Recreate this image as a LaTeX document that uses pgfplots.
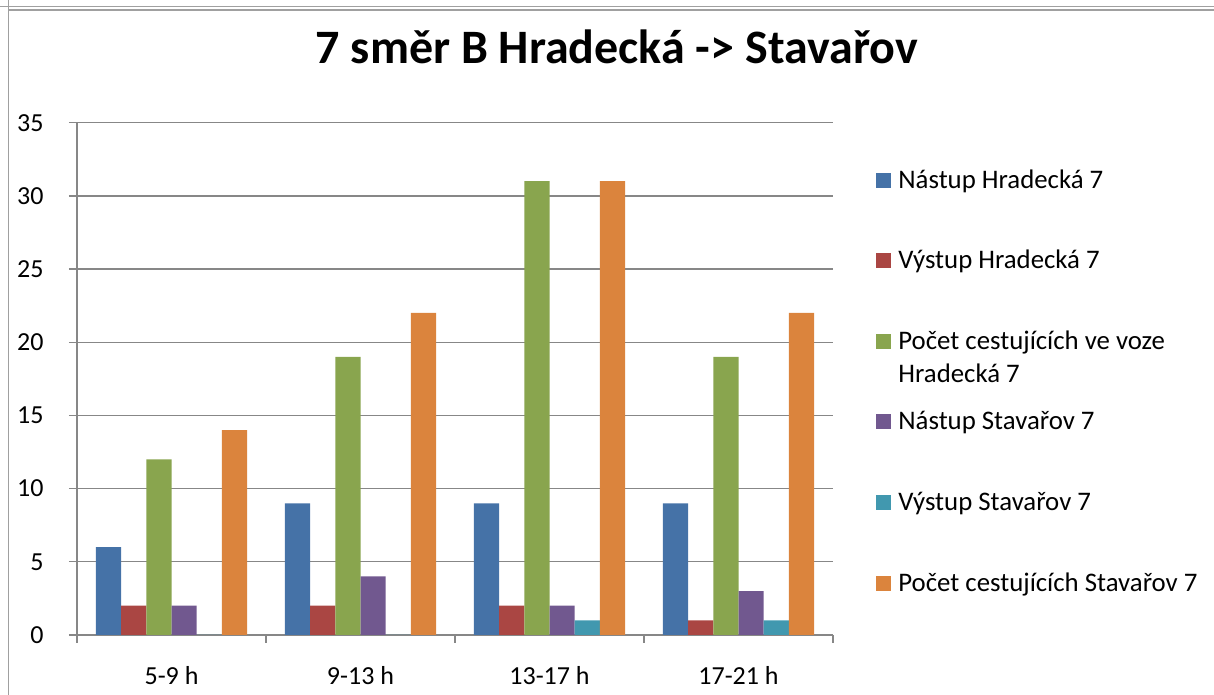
\documentclass[border=0pt]{standalone}
\usepackage{fontspec}
\setmainfont{Carlito}
\usepackage{pgfplots}
\pgfplotsset{compat=1.18}

\definecolor{cnh}{HTML}{4572A7}
\definecolor{cvh}{HTML}{AA4643}
\definecolor{cph}{HTML}{89A54E}
\definecolor{cns}{HTML}{71588F}
\definecolor{cvs}{HTML}{4198AF}
\definecolor{cps}{HTML}{DB843D}
\definecolor{axisgray}{HTML}{878787}
\definecolor{framegray}{HTML}{A0A0A0}

\begin{document}
\begin{tikzpicture}
% page is 1214x695 px at 0.5pt per px
\path[use as bounding box] (0,0) rectangle (607pt,347.5pt);
\draw[framegray, line width=0.75pt] (0pt,344.2pt) -- (607pt,344.2pt);
\draw[framegray, line width=0.75pt] (4.3pt,342.4pt) -- (607pt,342.4pt);
\draw[framegray, line width=0.75pt] (4.3pt,0pt) -- (4.3pt,347.5pt);

\begin{axis}[
    at={(38.5pt,30pt)}, anchor=south west,
    scale only axis, width=378pt, height=256.15pt,
    xmin=-0.5, xmax=3.5, ymin=0, ymax=35,
    ybar=0pt, bar width=12.6pt,
    axis lines=left,
    axis line style={-, draw=axisgray, line width=0.65pt},
    ytick={0,5,...,35},
    ymajorgrids, grid style={draw=axisgray, line width=0.65pt},
    tick align=outside, major tick length=4pt, minor tick length=4pt,
    tick style={draw=axisgray, line width=0.65pt},
    xtick={0,1,2,3},
    xticklabels={5-9 h,9-13 h,13-17 h,17-21 h},
    major x tick style={draw=none},
    minor xtick={-0.5,0.5,1.5,2.5,3.5},
    ticklabel style={font=\fontsize{13}{15.6}\selectfont, inner sep=0pt},
    xticklabel style={anchor=base, yshift=-21pt},
    yticklabel style={anchor=east, xshift=-12.5pt},
    /pgf/number format/assume math mode=true,
    title={7 směr B Hradecká -> Stavařov},
    title style={at={(axis description cs:0.714,1.0912)}, anchor=base,
        inner sep=0pt, font=\bfseries\fontsize{24}{28}\selectfont},
    legend cell align=left,
    legend style={at={(axis description cs:1.0569,0.9161)}, anchor=north west,
        draw=none, fill=none, inner sep=0pt, row sep=26.3pt, column sep=3.5pt,
        font=\fontsize{13.4}{15}\selectfont,
        nodes={inner sep=0pt, text height=11pt, text depth=3pt}},
    legend image code/.code={
        \path[#1, draw=none] (0pt,-3.75pt) rectangle (7.5pt,3.75pt);},
]

% Nástup Hradecká 7
\addplot[fill=cnh, draw=none] coordinates {(0,6) (1,9) (2,9) (3,9)};
% Výstup Hradecká 7
\addplot[fill=cvh, draw=none] coordinates {(0,2) (1,2) (2,2) (3,1)};
% Počet cestujících ve voze Hradecká 7
\addplot[fill=cph, draw=none] coordinates {(0,12) (1,19) (2,31) (3,19)};
% Nástup Stavařov 7
\addplot[fill=cns, draw=none] coordinates {(0,2) (1,4) (2,2) (3,3)};
% Výstup Stavařov 7
\addplot[fill=cvs, draw=none] coordinates {(0,0) (1,0) (2,1) (3,1)};
% Počet cestujících Stavařov 7
\addplot[fill=cps, draw=none] coordinates {(0,14) (1,22) (2,31) (3,22)};

\legend{Nástup Hradecká 7, Výstup Hradecká 7,
    {\parbox[t]{160pt}{Počet cestujících ve voze\\[1.5pt]Hradecká 7}},
    Nástup Stavařov 7, Výstup Stavařov 7, Počet cestujících Stavařov 7}

\end{axis}
\end{tikzpicture}
\end{document}
